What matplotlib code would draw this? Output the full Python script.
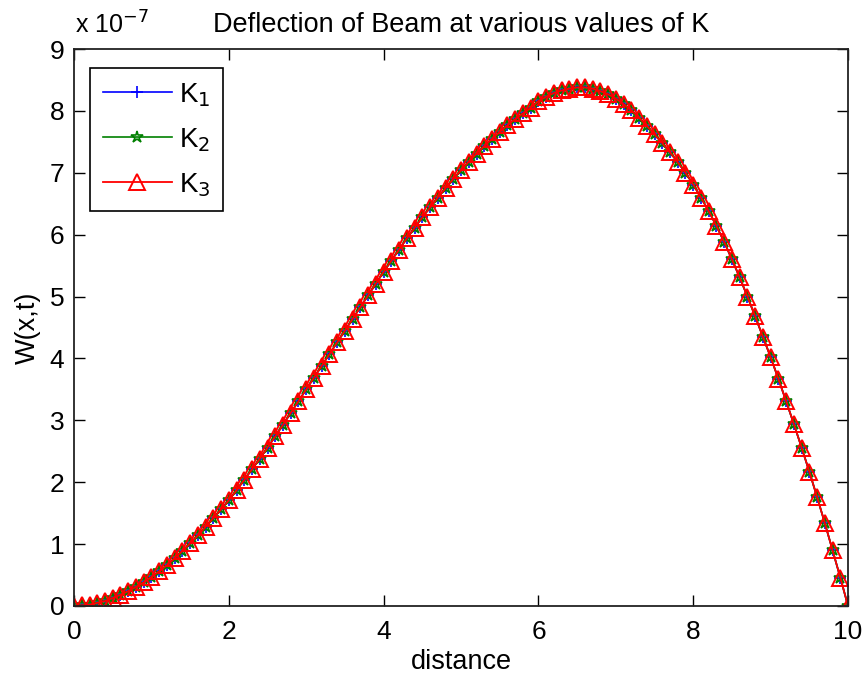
import matplotlib
matplotlib.use("Agg")
import matplotlib.pyplot as plt
import numpy as np
from matplotlib.ticker import FuncFormatter

plt.rcParams['font.family'] = ['Liberation Sans', 'DejaVu Sans']

# distance along the beam (0 to 10 step 0.1)
distance = np.round(np.arange(0, 101) * 0.1, 1)

# deflection, in units of 1e-7
w_k1 = [0.00, 0.01, 0.02, 0.05, 0.08, 0.13, 0.18, 0.24, 0.31, 0.38,
        0.47, 0.56, 0.66, 0.77, 0.89, 1.01, 1.14, 1.28, 1.42, 1.56,
        1.71, 1.87, 2.04, 2.21, 2.38, 2.56, 2.74, 2.93, 3.12, 3.31,
        3.50, 3.69, 3.88, 4.07, 4.26, 4.45, 4.64, 4.83, 5.02, 5.21,
        5.40, 5.58, 5.76, 5.94, 6.11, 6.28, 6.44, 6.60, 6.75, 6.90,
        7.04, 7.18, 7.31, 7.43, 7.55, 7.66, 7.77, 7.87, 7.96, 8.05,
        8.16, 8.23, 8.29, 8.33, 8.36, 8.38, 8.38, 8.36, 8.32, 8.27,
        8.20, 8.11, 8.01, 7.89, 7.76, 7.62, 7.48, 7.33, 7.17, 7.00,
        6.81, 6.60, 6.38, 6.14, 5.88, 5.60, 5.31, 5.00, 4.68, 4.35,
        4.02, 3.67, 3.31, 2.94, 2.56, 2.17, 1.76, 1.34, 0.90, 0.46,
        0.00]
# the three curves are indistinguishable on the chart
w_k2 = list(w_k1)
w_k3 = list(w_k1)

labels = ['K$_1$', 'K$_2$', 'K$_3$']
scale = 1e-7

fig = plt.figure(figsize=(8.68, 6.77), dpi=100)
ax = fig.add_axes([0.0853, 0.1049, 0.8917, 0.8227])

ax.plot(distance, np.array(w_k1) * scale, color='blue', lw=1.2, marker='+',
        ms=9, mew=1.2, label=labels[0])
ax.plot(distance, np.array(w_k2) * scale, color=(0, 0.5, 0), lw=1.2, marker='*',
        ms=9, mew=1.2, mfc='none', label=labels[1])
ax.plot(distance, np.array(w_k3) * scale, color='red', lw=1.3, marker='^',
        ms=11, mew=1.4, mfc='none', label=labels[2])

ax.set_xlim(0, 10)
ax.set_ylim(0, 9e-7)
ax.set_xticks(np.arange(0, 11, 2))
ax.set_yticks(np.arange(0, 10) * scale)
ax.yaxis.set_major_formatter(FuncFormatter(lambda v, p: '%d' % round(v / scale)))

ax.tick_params(direction='in', length=8, width=1.0, top=True, right=True,
               labelsize=19, pad=7)
ax.tick_params(axis='x', pad=10)
for s in ax.spines.values():
    s.set_linewidth(1.3)
    s.set_color('#222222')

ax.set_title('Deflection of Beam at various values of K', fontsize=19.5, pad=12)
ax.set_xlabel('distance', fontsize=19.5, labelpad=4)
ax.set_ylabel('W(x,t)', fontsize=19.5, labelpad=6)
fig.text(0.086, 0.943, r'x 10$^{-7}$', fontsize=18, ha='left', va='bottom')

leg = ax.legend(loc='upper left', bbox_to_anchor=(0.003, 0.99), fontsize=20,
                numpoints=1, handlelength=2.5, labelspacing=0.62,
                fancybox=False, framealpha=1, borderpad=0.45, handletextpad=0.25)
leg.get_frame().set_edgecolor('black')
leg.get_frame().set_linewidth(1.2)

fig.savefig('out.png', dpi=100)
